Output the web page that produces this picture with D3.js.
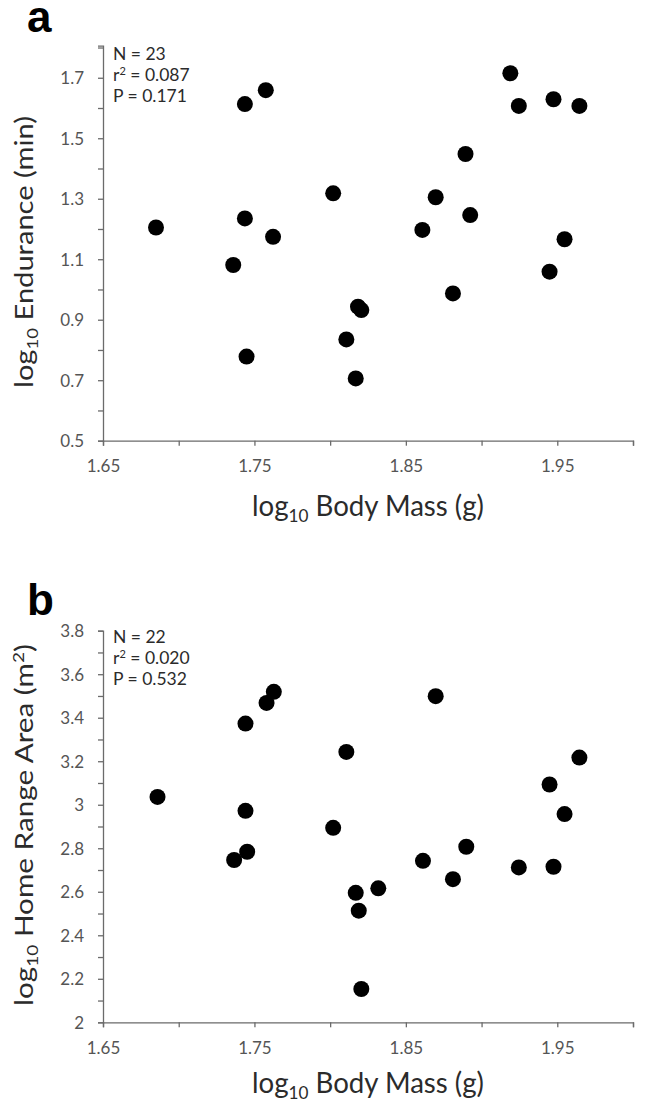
<!DOCTYPE html>
<html>
<head>
<meta charset="utf-8">
<script src="https://cdn.jsdelivr.net/npm/d3@7"></script>
<style>
html,body{margin:0;padding:0;background:#fff;}
svg{display:block;}
</style>
</head>
<body>
<svg id="chart" width="645" height="1104"></svg>
<script>
// ---- Data ----
const massA = [1.685, 1.7437, 1.7575, 1.7437, 1.7623, 1.802, 1.919, 1.9246, 1.9475, 1.9646, 1.8894, 1.8697, 1.8925, 1.8609, 1.9548, 1.736, 1.7448, 1.9449, 1.8811, 1.8184, 1.8206, 1.8107, 1.8169];
const enduranceA = [1.205, 1.613, 1.659, 1.235, 1.174, 1.318, 1.715, 1.607, 1.629, 1.607, 1.448, 1.305, 1.246, 1.197, 1.166, 1.081, 0.778, 1.059, 0.987, 0.943, 0.932, 0.835, 0.706];
const massB = [1.686, 1.7441, 1.758, 1.7628, 1.7441, 1.802, 1.8697, 1.8107, 1.9646, 1.9449, 1.9548, 1.7366, 1.7452, 1.8899, 1.8613, 1.8811, 1.9246, 1.9475, 1.8169, 1.8318, 1.8189, 1.8206];
const homeRangeB = [3.036, 3.373, 3.468, 3.519, 2.972, 2.894, 3.499, 3.243, 3.217, 3.093, 2.957, 2.746, 2.784, 2.807, 2.742, 2.658, 2.712, 2.715, 2.595, 2.616, 2.513, 2.153];
const xTickLabels = ["1.65", "1.75", "1.85", "1.95"];
const yTickLabelsA = ["0.5", "0.7", "0.9", "1.1", "1.3", "1.5", "1.7"];
const yTickLabelsB = ["2", "2.2", "2.4", "2.6", "2.8", "3", "3.2", "3.4", "3.6", "3.8"];
const statsA = ["N = 23", "0.087", "P = 0.171"];
const statsB = ["N = 22", "0.020", "P = 0.532"];

const svg = d3.select("#chart");
const FONT = "Lato, 'Open Sans', sans-serif";
const AXIS_COLOR = "#6b6b6b";
const TICK_TEXT = "#555555";
const TITLE_TEXT = "#2b2b2b";

function fitText(sel, baseTransform, target) {
  const w = sel.node().getComputedTextLength();
  const s = w > 0 ? target / w : 1;
  sel.attr("transform", `${baseTransform} scale(${s},1)`);
}

function panel(opts) {
  const g = svg.append("g");
  const x = d3.scaleLinear().domain([1.65, 2.0]).range([103, 633]);
  const y = d3.scaleLinear().domain(opts.yDomain).range([opts.bottom, opts.top]);

  // panel letter
  g.append("text").attr("x", 27).attr("y", opts.letterY)
    .attr("font-family", "'Liberation Sans', Arial, sans-serif")
    .attr("font-weight", "bold").attr("font-size", 44).attr("fill", "#000")
    .text(opts.letter);

  // x axis
  const xMajor = xTickLabels.map(Number);
  const xMinor = [1.70, 1.80, 1.90, 2.00];
  const xAxis = d3.axisBottom(x).tickValues(xMajor.concat(xMinor)).tickSizeOuter(0).tickSize(5)
    .tickFormat(d => xTickLabels.includes(d.toFixed(2)) ? d.toFixed(2) : "");
  const gx = g.append("g").attr("transform", `translate(0,${opts.bottom})`).call(xAxis);
  gx.select(".domain").attr("stroke", AXIS_COLOR).attr("stroke-width", 1.3);
  gx.selectAll(".tick line").attr("stroke", AXIS_COLOR).attr("stroke-width", 1.3);
  gx.selectAll(".tick text").attr("font-family", FONT).attr("font-size", 17)
    .attr("fill", TICK_TEXT).attr("dy", 0).attr("y", 31.5);

  // y axis
  const yMajor = opts.yLabels.map(Number);
  const yAxis = d3.axisLeft(y).tickValues(yMajor.concat(opts.yMinor)).tickSizeOuter(0).tickSize(5)
    .tickFormat(d => {
      const m = opts.yLabels.find(l => Math.abs(Number(l) - d) < 1e-9);
      return m ? m : "";
    });
  const gy = g.append("g").attr("transform", `translate(103,0)`).call(yAxis);
  gy.select(".domain").attr("stroke", AXIS_COLOR).attr("stroke-width", 1.3);
  gy.selectAll(".tick line").attr("stroke", AXIS_COLOR).attr("stroke-width", 1.3);
  gy.selectAll(".tick text").attr("font-family", FONT).attr("font-size", 17)
    .attr("fill", TICK_TEXT).attr("x", -19).attr("dy", "0.35em");

  // points
  g.append("g").selectAll("circle").data(opts.xs.map((v, i) => [v, opts.ys[i]]))
    .join("circle")
    .attr("cx", d => x(d[0])).attr("cy", d => y(d[1])).attr("r", 8)
    .attr("fill", "#000");

  // stats
  const st = g.append("g").attr("font-family", FONT).attr("font-size", 17.5).attr("fill", TITLE_TEXT);
  st.append("text").attr("x", 113).attr("y", opts.statY).text(opts.stats[0]);
  const r2 = st.append("text").attr("x", 113).attr("y", opts.statY + 21);
  r2.append("tspan").text("r");
  r2.append("tspan").attr("font-size", 11).attr("dy", -6).text("2");
  r2.append("tspan").attr("dy", 6).text(" = " + opts.stats[1]);
  st.append("text").attr("x", 113).attr("y", opts.statY + 42).text(opts.stats[2]);

  // x title
  const xt = g.append("text").attr("x", 0).attr("y", 0)
    .attr("text-anchor", "middle").attr("font-family", FONT).attr("font-size", 29).attr("fill", TITLE_TEXT);
  xt.append("tspan").text("log");
  xt.append("tspan").attr("font-size", 18).attr("dy", 6).text("10");
  xt.append("tspan").attr("dy", -6).text(" Body Mass (g)");
  fitText(xt, `translate(368,${opts.bottom + opts.xTitleOffset})`, 232);

  // y title
  const yt = g.append("text").attr("x", 0).attr("y", 0)
    .attr("text-anchor", "middle").attr("font-family", FONT).attr("font-size", 25).attr("fill", TITLE_TEXT);
  yt.append("tspan").text("log");
  yt.append("tspan").attr("font-size", 16).attr("dy", 5).text("10");
  yt.append("tspan").attr("dy", -5).text(opts.yTitle);
  if (opts.yTitleSup) {
    yt.append("tspan").attr("font-size", 16).attr("dy", -9).text(opts.yTitleSup);
    yt.append("tspan").attr("dy", 9).text(")");
  }
  fitText(yt, `translate(33,${opts.yTitleCenter}) rotate(-90)`, opts.yTitleLength);
}

panel({
  letter: "a", letterY: 32,
  top: 45.7, bottom: 440.7, yDomain: [0.5, 1.806],
  yLabels: yTickLabelsA, yMinor: [0.6, 0.8, 1.0, 1.2, 1.4, 1.6, 1.8],
  xs: massA, ys: enduranceA, stats: statsA, statY: 60, xTitleOffset: 75,
  yTitle: " Endurance (min)", yTitleCenter: 252, yTitleLength: 272
});

panel({
  letter: "b", letterY: 615,
  top: 630.7, bottom: 1022.3, yDomain: [2, 3.8],
  yLabels: yTickLabelsB, yMinor: [2.1, 2.3, 2.5, 2.7, 2.9, 3.1, 3.3, 3.5, 3.7],
  xs: massB, ys: homeRangeB, stats: statsB, statY: 643, xTitleOffset: 71,
  yTitle: " Home Range Area (m", yTitleSup: "2", yTitleCenter: 825, yTitleLength: 362
});
</script>
</body>
</html>
